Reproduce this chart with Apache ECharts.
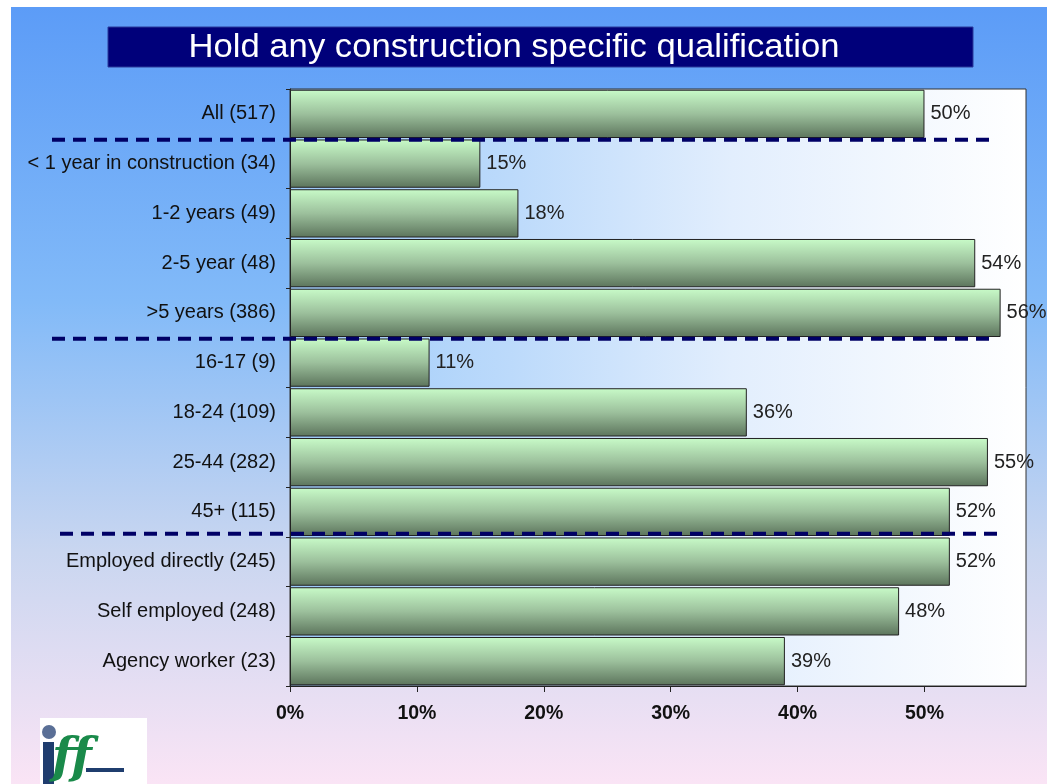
<!DOCTYPE html>
<html><head><meta charset="utf-8">
<script src="https://cdn.jsdelivr.net/npm/echarts@6/dist/echarts.min.js"></script>
<style>html,body{margin:0;padding:0;background:#fff}#c{width:1047px;height:784px}</style>
</head><body><div id="c"></div>
<script>
const categories = ['All (517)', '< 1 year in construction (34)', '1-2 years (49)', '2-5 year (48)', '>5 years (386)', '16-17 (9)', '18-24 (109)', '25-44 (282)', '45+ (115)', 'Employed directly (245)', 'Self employed (248)', 'Agency worker (23)'];
const values = [50, 15, 18, 54, 56, 11, 36, 55, 52, 52, 48, 39];
const tickValues = [0, 10, 20, 30, 40, 50];
const groupStarts = [1, 5, 9];
const titleText = 'Hold any construction specific qualification';

const FONT = "'Liberation Sans', Arial, sans-serif";
const chart = echarts.init(document.getElementById('c'), null, {renderer: 'canvas'});

const baseGraphic = [
  {type: 'rect', id: 'pagebg', z: -100, shape: {x: 11, y: 7, width: 1036, height: 777},
   style: {fill: new echarts.graphic.LinearGradient(0, 0, 0, 1, [
     {offset: 0, color: '#5c9cf7'}, {offset: 0.38, color: '#82baf8'},
     {offset: 0.7, color: '#c9d6f0'}, {offset: 1, color: '#fae4f5'}])}},
  {type: 'rect', id: 'titlebox', z: 10, shape: {x: 108, y: 27, width: 865, height: 40},
   style: {fill: '#00007a', stroke: '#2a3a9a', lineWidth: 1}},
  {type: 'text', id: 'titletext', z: 11, x: 541, y: 48, scaleX: 1.05, originX: 541, originY: 48,
   style: {text: titleText, fill: '#ffffff', font: '33px ' + FONT, align: 'center', verticalAlign: 'middle'}},
  {type: 'rect', id: 'logobg', z: 10, shape: {x: 40, y: 718, width: 107, height: 66}, style: {fill: '#ffffff'}},
  {type: 'circle', id: 'logodot', z: 11, shape: {cx: 49, cy: 732, r: 7}, style: {fill: '#5a6f96'}},
  {type: 'rect', id: 'logoi', z: 11, shape: {x: 43, y: 742, width: 11, height: 42}, style: {fill: '#1f3d6e'}},
  {type: 'text', id: 'logoff', z: 11, x: 52, y: 784,
   style: {text: 'ff', fill: '#1a8a4a', font: 'italic bold 48px "DejaVu Serif", serif', verticalAlign: 'bottom'}},
  {type: 'rect', id: 'logobar', z: 11, shape: {x: 86, y: 768, width: 38, height: 4}, style: {fill: '#1f3d6e'}}
];

chart.setOption({
  animation: false,
  backgroundColor: '#ffffff',
  textStyle: {fontFamily: FONT},
  grid: {
    left: 290, top: 89, width: 736, height: 597, show: true,
    borderColor: '#333333', borderWidth: 1,
    backgroundColor: new echarts.graphic.LinearGradient(0, 0, 1, 0, [
      {offset: 0, color: '#9ccaf9'}, {offset: 0.3, color: '#bcdafb'},
      {offset: 0.6, color: '#e2eefd'}, {offset: 1, color: '#ffffff'}])
  },
  xAxis: {
    type: 'value', min: 0, max: 58, interval: 10,
    axisLine: {show: true, lineStyle: {color: '#222', width: 1}},
    axisTick: {show: true, length: 6, customValues: tickValues, lineStyle: {color: '#222'}},
    axisLabel: {customValues: tickValues, formatter: '{value}%', fontSize: 19.5, fontWeight: 'bold', color: '#111', margin: 18, fontFamily: FONT},
    splitLine: {show: false}
  },
  yAxis: {
    type: 'category', data: categories, inverse: true,
    axisLine: {show: true, lineStyle: {color: '#222', width: 1}},
    axisTick: {show: true, length: 4, alignWithLabel: false, lineStyle: {color: '#222'}},
    axisLabel: {fontSize: 20, color: '#111', margin: 14, fontFamily: FONT}
  },
  series: [{
    type: 'bar', data: values, barCategoryGap: '3%',
    itemStyle: {
      color: new echarts.graphic.LinearGradient(0, 0, 0, 1, [
        {offset: 0, color: '#c8fbc8'}, {offset: 0.5, color: '#9cc09c'}, {offset: 1, color: '#5c745c'}]),
      borderColor: '#222222', borderWidth: 1
    },
    label: {show: true, position: 'right', distance: 6, formatter: '{c}%', fontSize: 20, color: '#222', fontFamily: FONT}
  }],
  graphic: baseGraphic
});

// dashed group separators, positioned from category scale
const sepX = [[52, 993], [52, 995], [60, 1000]];
const sepDy = [1, 1, -3];
const seps = groupStarts.map((idx, i) => {
  const yA = chart.convertToPixel({yAxisIndex: 0}, categories[idx - 1]);
  const yB = chart.convertToPixel({yAxisIndex: 0}, categories[idx]);
  const y = (yA + yB) / 2 + sepDy[i];
  return {type: 'line', id: 'sep' + i, z: 50,
    shape: {x1: sepX[i][0], y1: y, x2: sepX[i][1], y2: y},
    style: {stroke: '#000066', lineWidth: 4, lineDash: [13, 8]}};
});
chart.setOption({graphic: baseGraphic.concat(seps)});
</script></body></html>
